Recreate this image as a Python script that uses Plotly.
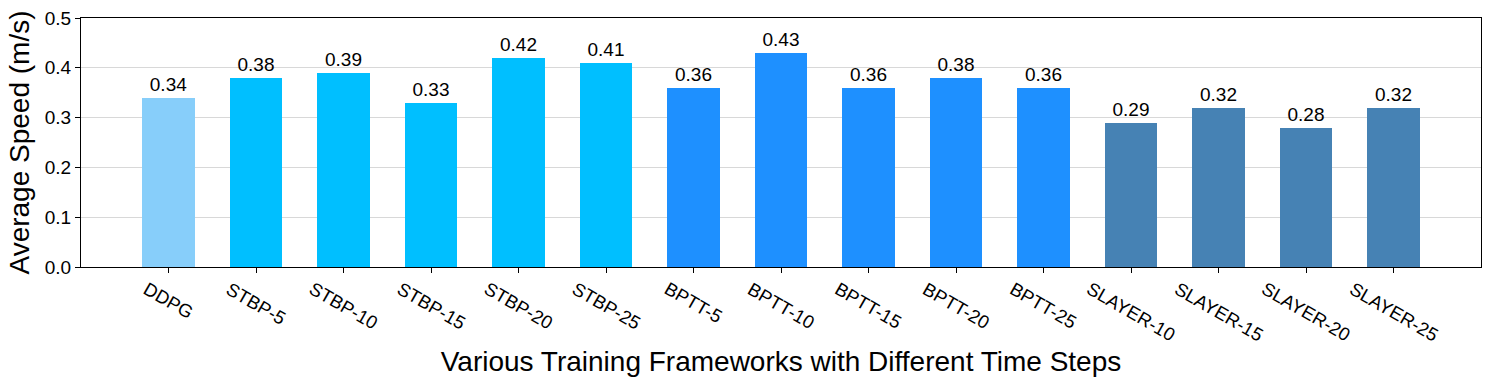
import plotly.graph_objects as go

# data
frameworks = ['DDPG', 'STBP-5', 'STBP-10', 'STBP-15', 'STBP-20', 'STBP-25',
              'BPTT-5', 'BPTT-10', 'BPTT-15', 'BPTT-20', 'BPTT-25',
              'SLAYER-10', 'SLAYER-15', 'SLAYER-20', 'SLAYER-25']
speeds = [0.34, 0.38, 0.39, 0.33, 0.42, 0.41,
          0.36, 0.43, 0.36, 0.38, 0.36,
          0.29, 0.32, 0.28, 0.32]
group_colors = {'DDPG': '#87CEFA', 'STBP': '#00BFFF', 'BPTT': '#1E90FF', 'SLAYER': '#4682B4'}
y_ticks = [0.0, 0.1, 0.2, 0.3, 0.4, 0.5]

colors = [group_colors[f.split('-')[0]] for f in frameworks]
xs = list(range(len(frameworks)))

fig = go.Figure()
fig.add_trace(go.Bar(
    x=xs,
    y=speeds,
    width=0.6,
    marker=dict(color=colors, line=dict(width=0)),
    text=[f'{v:.2f}' for v in speeds],
    textposition='outside',
    textfont=dict(size=19, color='black'),
    cliponaxis=False,
))

# rotated tick labels, centred under each tick like matplotlib
for i, name in enumerate(frameworks):
    fig.add_annotation(
        x=i, y=0, xref='x', yref='paper',
        text=name, showarrow=False, textangle=30,
        xanchor='center', yanchor='top', yshift=-8,
        font=dict(size=18.5, color='black'),
    )

font = 'Arial, Liberation Sans, sans-serif'
fig.update_layout(
    width=1490, height=390,
    margin=dict(l=81, r=9, t=18, b=123),
    plot_bgcolor='white', paper_bgcolor='white',
    font=dict(family=font, color='black'),
    showlegend=False,
    bargap=0,
)
fig.update_xaxes(
    range=[-1, 15], automargin=False,
    tickvals=xs, ticktext=[''] * len(xs),
    ticks='outside', ticklen=5, tickcolor='black',
    showline=True, linecolor='black', linewidth=1, mirror=True,
    showgrid=False, zeroline=False,
    title=dict(text='Various Training Frameworks with Different Time Steps',
               font=dict(size=28), standoff=76),
)
fig.update_yaxes(
    range=[0, 0.5], automargin=False,
    tickvals=y_ticks, ticktext=[f'{t:.1f}' for t in y_ticks],
    tickfont=dict(size=19),
    ticks='outside', ticklen=5, tickcolor='black',
    showline=True, linecolor='black', linewidth=1, mirror=True,
    showgrid=True, gridcolor='rgba(200,200,200,0.7)', gridwidth=1,
    zeroline=False, layer='above traces',
    title=dict(text='Average Speed (m/s)', font=dict(size=28), standoff=6),
)

fig.write_html('out.html', config={'displayModeBar': False},
               post_script="document.body.style.margin='0';")
